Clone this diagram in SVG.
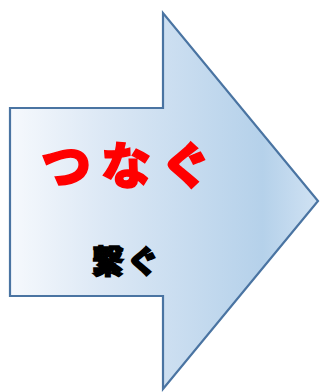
<svg xmlns="http://www.w3.org/2000/svg" width="320" height="392" viewBox="0 0 320 392">
<defs>
<linearGradient id="g" x1="10" y1="0" x2="318" y2="0" gradientUnits="userSpaceOnUse">
<stop offset="0" stop-color="#f6f9fd"/>
<stop offset="0.3" stop-color="#dce8f5"/>
<stop offset="0.82" stop-color="#b5d1ea"/>
<stop offset="1" stop-color="#d0e2f3"/>
</linearGradient>
<style>
.big{font-family:"Noto Sans CJK JP",sans-serif;font-weight:900;font-size:50px;fill:#ff0000;stroke:#ff0000;stroke-width:1.5px;letter-spacing:10px}
.small{font-family:"Noto Sans CJK JP",sans-serif;font-weight:900;font-size:32px;fill:#000000;stroke:#000000;stroke-width:1.5px;letter-spacing:3px}
</style>
</defs>
<g id="arrow">
<polygon points="10,108 163,108 163,13 318,201 163,389 163,296 10,296" fill="url(#g)" stroke="#4a74a2" stroke-width="2.2" stroke-linejoin="miter"/>
<text class="big" x="41" y="184">つなぐ</text>
<text class="small" x="92" y="273">繋ぐ</text>
</g>
</svg>
